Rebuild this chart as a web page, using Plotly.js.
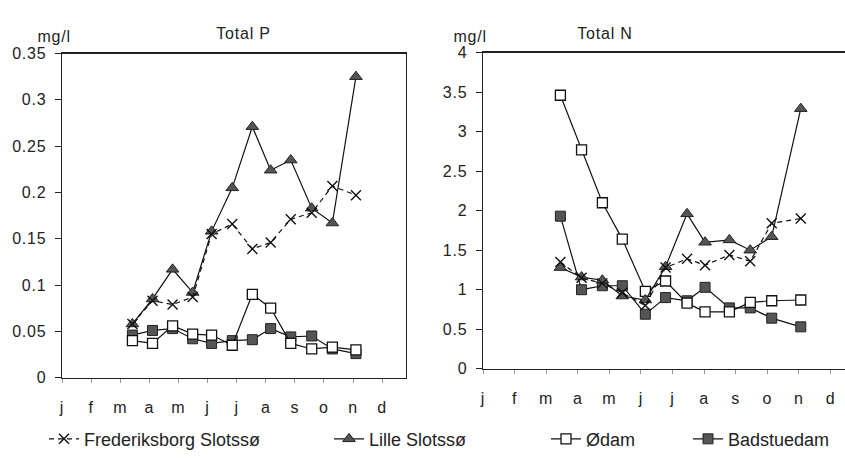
<!DOCTYPE html>
<html>
<head>
<meta charset="utf-8">
<script src="https://cdn.plot.ly/plotly-3.0.1.min.js"></script>
<style>
html,body{margin:0;padding:0;background:#fff;}
#chart{width:845px;height:458px;}
#chart .xtick text, #chart .ytick text, #chart .x2tick text, #chart .y2tick text, #chart .annotation text{letter-spacing:0.8px;}
</style>
</head>
<body>
<div id="chart"></div>
<script>
// Month labels (j..d) placed at month index 0..11
const monthLabels = ['j','f','m','a','m','j','j','a','s','o','n','d'];
const monthTicks = [0,1,2,3,4,5,6,7,8,9,10,11];

// Sampling dates (fractional month index) for each panel
const monthsP = [2.42, 3.11, 3.80, 4.49, 5.14, 5.85, 6.54, 7.17, 7.86, 8.58, 9.29, 10.10];
const monthsN = [2.45, 3.12, 3.78, 4.41, 5.14, 5.78, 6.46, 7.03, 7.80, 8.46, 9.14, 10.06];

const seriesNames = ['Frederiksborg Slotssø', 'Lille Slotssø', 'Ødam', 'Badstuedam'];

// Total P (mg/l)
const fredP  = [0.058, 0.083, 0.079, 0.087, 0.155, 0.166, 0.139, 0.146, 0.171, 0.178, 0.207, 0.197];
const lilleP = [0.058, 0.085, 0.117, 0.092, 0.158, 0.205, 0.271, 0.224, 0.235, 0.183, 0.167, 0.325];
const odamP  = [0.040, 0.037, 0.056, 0.047, 0.046, 0.035, 0.090, 0.075, 0.037, 0.031, 0.033, 0.030];
const badP   = [0.046, 0.051, 0.053, 0.042, 0.037, 0.040, 0.041, 0.053, 0.044, 0.045, 0.031, 0.026];

// Total N (mg/l)
const fredN  = [1.35, 1.15, 1.08, 0.96, 0.80, 1.28, 1.39, 1.31, 1.44, 1.36, 1.84, 1.90];
const lilleN = [1.28, 1.16, 1.12, 0.92, 0.87, 1.29, 1.96, 1.60, 1.63, 1.50, 1.67, 3.29];
const odamN  = [3.46, 2.77, 2.10, 1.64, 0.98, 1.11, 0.83, 0.72, 0.72, 0.84, 0.86, 0.87];
const badN   = [1.93, 1.00, 1.05, 1.05, 0.69, 0.90, 0.86, 1.03, 0.77, 0.77, 0.64, 0.53];

const FONT = '"Liberation Sans", Arial, sans-serif';
const styles = {
  fred:  {line:{color:'#111', width:1.2, dash:'5px,4px'}, marker:{symbol:'x-thin-open', size:10, color:'#111', line:{color:'#111', width:1.4}}},
  lille: {line:{color:'#111', width:1.2}, marker:{symbol:'triangle-up', size:11, color:'#555', line:{color:'#222', width:1}}},
  odam:  {line:{color:'#111', width:1.2}, marker:{symbol:'square', size:10, color:'#fff', line:{color:'#111', width:1.3}}},
  bad:   {line:{color:'#111', width:1.2}, marker:{symbol:'square', size:10, color:'#555', line:{color:'#222', width:1}}}
};

function tr(x, y, key, name, ax, legend, show) {
  return Object.assign({
    type:'scatter', mode:'lines+markers', x:x, y:y, name:name,
    xaxis: ax==1 ? 'x' : 'x2', yaxis: ax==1 ? 'y' : 'y2',
    legend: legend, showlegend: show, legendgroup: name, hoverinfo:'skip'
  }, styles[key]);
}

const data = [
  tr(monthsP, badP,   'bad',   seriesNames[3], 1, 'legend4', true),
  tr(monthsP, odamP,  'odam',  seriesNames[2], 1, 'legend3', true),
  tr(monthsP, lilleP, 'lille', seriesNames[1], 1, 'legend2', true),
  tr(monthsP, fredP,  'fred',  seriesNames[0], 1, 'legend',  true),
  tr(monthsN, badN,   'bad',   seriesNames[3], 2, 'legend4', false),
  tr(monthsN, odamN,  'odam',  seriesNames[2], 2, 'legend3', false),
  tr(monthsN, lilleN, 'lille', seriesNames[1], 2, 'legend2', false),
  tr(monthsN, fredN,  'fred',  seriesNames[0], 2, 'legend',  false)
];

const W = 845, H = 458;
const px = v => v / W, py = v => (H - v) / H;

const tickFont = {family: FONT, size: 16, color: '#222'};
const xCommon = {
  tickmode:'array', tickvals: monthTicks, ticktext: monthLabels,
  showline:true, linecolor:'#222', linewidth:1.3, ticks:'outside', ticklen:4, tickcolor:'#999', tickwidth:1,
  showgrid:false, zeroline:false, tickfont: tickFont, ticklabelstandoff: 11, fixedrange:true
};
const yCommon = {
  showline:true, linecolor:'#222', linewidth:1.3, ticks:'outside', ticklen:6, tickcolor:'#222', tickwidth:1,
  showgrid:false, zeroline:false, tickfont: tickFont, ticklabelstandoff: 5, fixedrange:true
};

function leg(xpx) {
  return {x: px(xpx), xanchor:'left', y: py(443), yanchor:'middle', orientation:'h',
          font:{family: FONT, size: 18, color:'#222'}, bgcolor:'rgba(0,0,0,0)', borderwidth:0,
          itemwidth:30, tracegroupgap:0};
}

const layout = {
  width: W, height: H,
  margin:{l:0, r:0, t:0, b:0},
  paper_bgcolor:'#fff', plot_bgcolor:'#fff',
  font:{family: FONT, color:'#222'},
  xaxis: Object.assign({}, xCommon, {domain:[px(62), px(406)], range:[0, 11.82], anchor:'y', mirror:true}),
  yaxis: Object.assign({}, yCommon, {domain:[py(381), py(54)], range:[0, 0.35], dtick:0.05, anchor:'x', mirror:true}),
  xaxis2: Object.assign({}, xCommon, {domain:[px(483), 1], range:[0, 11.46], anchor:'y2', mirror:true}),
  yaxis2: Object.assign({}, yCommon, {domain:[py(372), py(53)], range:[0, 4], dtick:0.5, anchor:'x2', mirror:false}),
  legend: leg(44),
  legend2: leg(329),
  legend3: leg(546),
  legend4: leg(688),
  annotations: [
    {text:'mg/l', x:px(37), y:py(26), xref:'paper', yref:'paper', showarrow:false, font:{family:FONT, size:16, color:'#222'}},
    {text:'Total P', x:px(217), y:py(23), xref:'paper', yref:'paper', showarrow:false, font:{family:FONT, size:16, color:'#222'}},
    {text:'mg/l', x:px(470), y:py(26), xref:'paper', yref:'paper', showarrow:false, font:{family:FONT, size:16, color:'#222'}},
    {text:'Total N', x:px(632), y:py(23), xref:'paper', yref:'paper', showarrow:false, font:{family:FONT, size:16, color:'#222'}}
  ]
};

Plotly.newPlot('chart', data, layout, {staticPlot:true, displayModeBar:false});
</script>
</body>
</html>
